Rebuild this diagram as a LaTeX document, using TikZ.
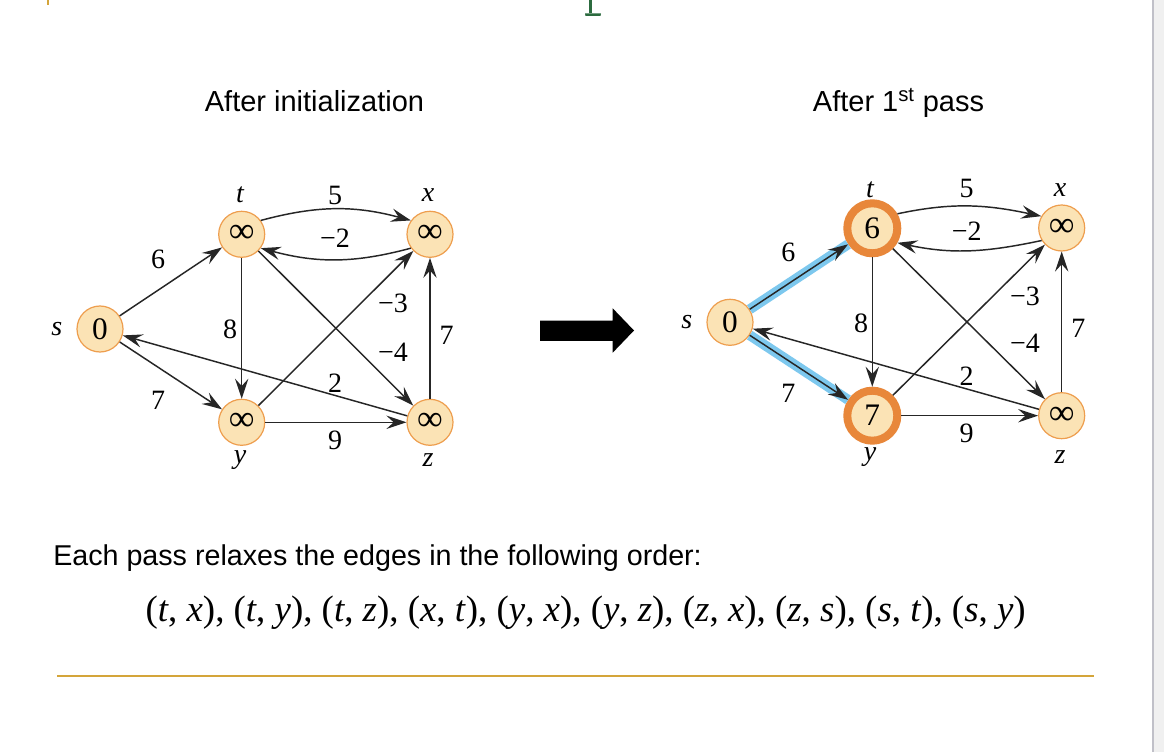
\documentclass[tikz,border=0pt]{standalone}
\usepackage{fontspec}
\setmainfont{Liberation Serif}
\newfontfamily\arialfont{Liberation Sans}
\usetikzlibrary{arrows.meta}
\definecolor{nodefill}{RGB}{251,227,181}
\definecolor{nodeborder}{RGB}{238,158,78}
\definecolor{thickorange}{RGB}{232,135,58}
\definecolor{hlblue}{RGB}{125,200,238}
\definecolor{goldline}{RGB}{212,165,58}
\definecolor{titlegreen}{RGB}{44,107,63}
\definecolor{bandline}{RGB}{192,192,200}
\definecolor{bandfill}{RGB}{240,240,240}
\begin{document}
\begin{tikzpicture}[x=0.75pt,y=-0.75pt,
  vnode/.style={circle, draw=nodeborder, fill=nodefill, line width=0.9pt, minimum size=34.5pt, inner sep=0pt,
    font=\fontsize{23.5pt}{24pt}\selectfont},
  hnode/.style={circle, draw=thickorange, fill=nodefill, line width=6pt, minimum size=37.5pt, inner sep=0pt,
    font=\fontsize{23.5pt}{24pt}\selectfont},
  edge/.style={draw=black!85, line width=1.1pt, -{Stealth[length=15pt,width=10pt,inset=5.5pt]}},
  bluehl/.style={draw=hlblue, line width=7.5pt},
  wlabel/.style={inner sep=0pt, font=\fontsize{21pt}{21pt}\selectfont},
  vname/.style={inner sep=0pt, font=\fontsize{21pt}{21pt}\selectfont\itshape},
  title/.style={inner sep=0pt, anchor=base, font=\arialfont\fontsize{21.75pt}{22pt}\selectfont}
]
\fill[white] (0,0) rectangle (1164,752);
\useasboundingbox (0,0) rectangle (1164,752);
% page decorations
\fill[bandfill] (1154,0) rectangle (1164,752);
\fill[bandline] (1151.7,0) rectangle (1154,752);
\fill[goldline] (47,0) rectangle (49.2,4.8);
\fill[titlegreen] (589,0) rectangle (592,13.5);
\fill[titlegreen] (585,13.3) -- (601,13.3) -- (600.5,15.8) -- (585.5,15.8) -- cycle;
\draw[goldline, line width=2.2pt] (57,676) -- (1094,676);

\newcommand{\infsym}{{\fontsize{27pt}{27pt}\selectfont ∞}}

% titles
\node[title] (tleft) at (314.5,111.7) {After initialization};
\node[title] (tright) at (898.5,111.7) {After 1\textsuperscript{st} pass};

% ---------- left graph ----------
\node[vnode] (ls) at (100,329) {0};
\node[vnode] (lt) at (241.7,234.3) {\infsym};
\node[vnode] (lx) at (430,234.3) {\infsym};
\node[vnode] (ly) at (241.7,422.3) {\infsym};
\node[vnode] (lz) at (430,422.3) {\infsym};

\draw[edge] (ls) -- (lt);
\draw[edge] (ls) -- (ly);
\draw[edge] (lt) -- (ly);
\draw[edge] (lt) -- (lz);
\draw[edge] (ly) -- (lx);
\draw[edge] (ly) -- (lz);
\draw[edge] (lz) -- (lx);
\draw[edge] (lz) -- (ls);
\draw[edge] (lt.36) to[out=15,in=165] (lx.144);
\draw[edge] (lx.216) to[out=195,in=-15] (lt.-36);

\node[vname] (lsn) at (56.7,329) {s};
\node[vname] (ltn) at (240,195) {t};
\node[vname] (lxn) at (428,195) {x};
\node[vname] (lyn) at (240,460) {y};
\node[vname] (lzn) at (428,460) {z};

\node[wlabel] (lw5) at (335,195) {5};
\node[wlabel] (lwm2) at (335,238) {−2};
\node[wlabel] (lw6) at (158,259) {6};
\node[wlabel] (lw8) at (230,329) {8};
\node[wlabel] (lwm3) at (393,303) {−3};
\node[wlabel] (lwm4) at (393,352) {−4};
\node[wlabel] (lw7r) at (446.7,335.7) {7};
\node[wlabel] (lw2) at (335,383) {2};
\node[wlabel] (lw7l) at (158,400) {7};
\node[wlabel] (lw9) at (335,440) {9};

% big arrow
\fill[black] (540,320.7) -- (612.7,320.7) -- (612.7,308.3) -- (634,330.5) -- (612.7,352.7) -- (612.7,341) -- (540,341) -- cycle;

% ---------- right graph ----------
\node[vnode] (rs) at (730,322.3) {0};
\node[hnode] (rt) at (872.3,228.3) {6};
\node[vnode] (rx) at (1061.7,228) {\infsym};
\node[hnode] (ry) at (872.3,415.7) {7};
\node[vnode] (rz) at (1061.7,415.7) {\infsym};

\draw[bluehl] (rs) -- (rt);
\draw[bluehl] (rs) -- (ry);
\draw[edge] (rs) -- (rt);
\draw[edge] (rs) -- (ry);
\draw[edge] (rt) -- (ry);
\draw[edge] (rt) -- (rz);
\draw[edge] (ry) -- (rx);
\draw[edge] (ry) -- (rz);
\draw[edge] (rz) -- (rx);
\draw[edge] (rz) -- (rs);
\draw[edge] (rt.30) to[out=12,in=168] (rx.150);
\draw[edge] (rx.212) to[out=192,in=-12] (rt.-30);

\node[vname] (rsn) at (686.7,322.3) {s};
\node[vname] (rtn) at (870,190) {t};
\node[vname] (rxn) at (1060,190) {x};
\node[vname] (ryn) at (870,456.7) {y};
\node[vname] (rzn) at (1060,456.7) {z};

\node[wlabel] (rw5) at (966.7,188.3) {5};
\node[wlabel] (rwm2) at (966.7,231.7) {−2};
\node[wlabel] (rw6) at (788.3,252.7) {6};
\node[wlabel] (rw8) at (861,323.3) {8};
\node[wlabel] (rwm3) at (1025,296.7) {−3};
\node[wlabel] (rwm4) at (1025,343.3) {−4};
\node[wlabel] (rw7r) at (1078.3,328.3) {7};
\node[wlabel] (rw2) at (966.7,376.7) {2};
\node[wlabel] (rw7l) at (788.3,393.3) {7};
\node[wlabel] (rw9) at (966.7,433.3) {9};

% bottom text
\node[inner sep=0pt, anchor=base west, font=\arialfont\fontsize{21.5pt}{22pt}\selectfont] (order) at (53,565) {Each pass relaxes the edges in the following order:};
\node[inner sep=0pt] (seq) at (585.7,612.5) {\resizebox{660pt}{!}{\fontsize{20pt}{20pt}\selectfont
(\textit{t}, \textit{x}), (\textit{t}, \textit{y}), (\textit{t}, \textit{z}), (\textit{x}, \textit{t}), (\textit{y}, \textit{x}), (\textit{y}, \textit{z}), (\textit{z}, \textit{x}), (\textit{z}, \textit{s}), (\textit{s}, \textit{t}), (\textit{s}, \textit{y})}};
\end{tikzpicture}
\end{document}
